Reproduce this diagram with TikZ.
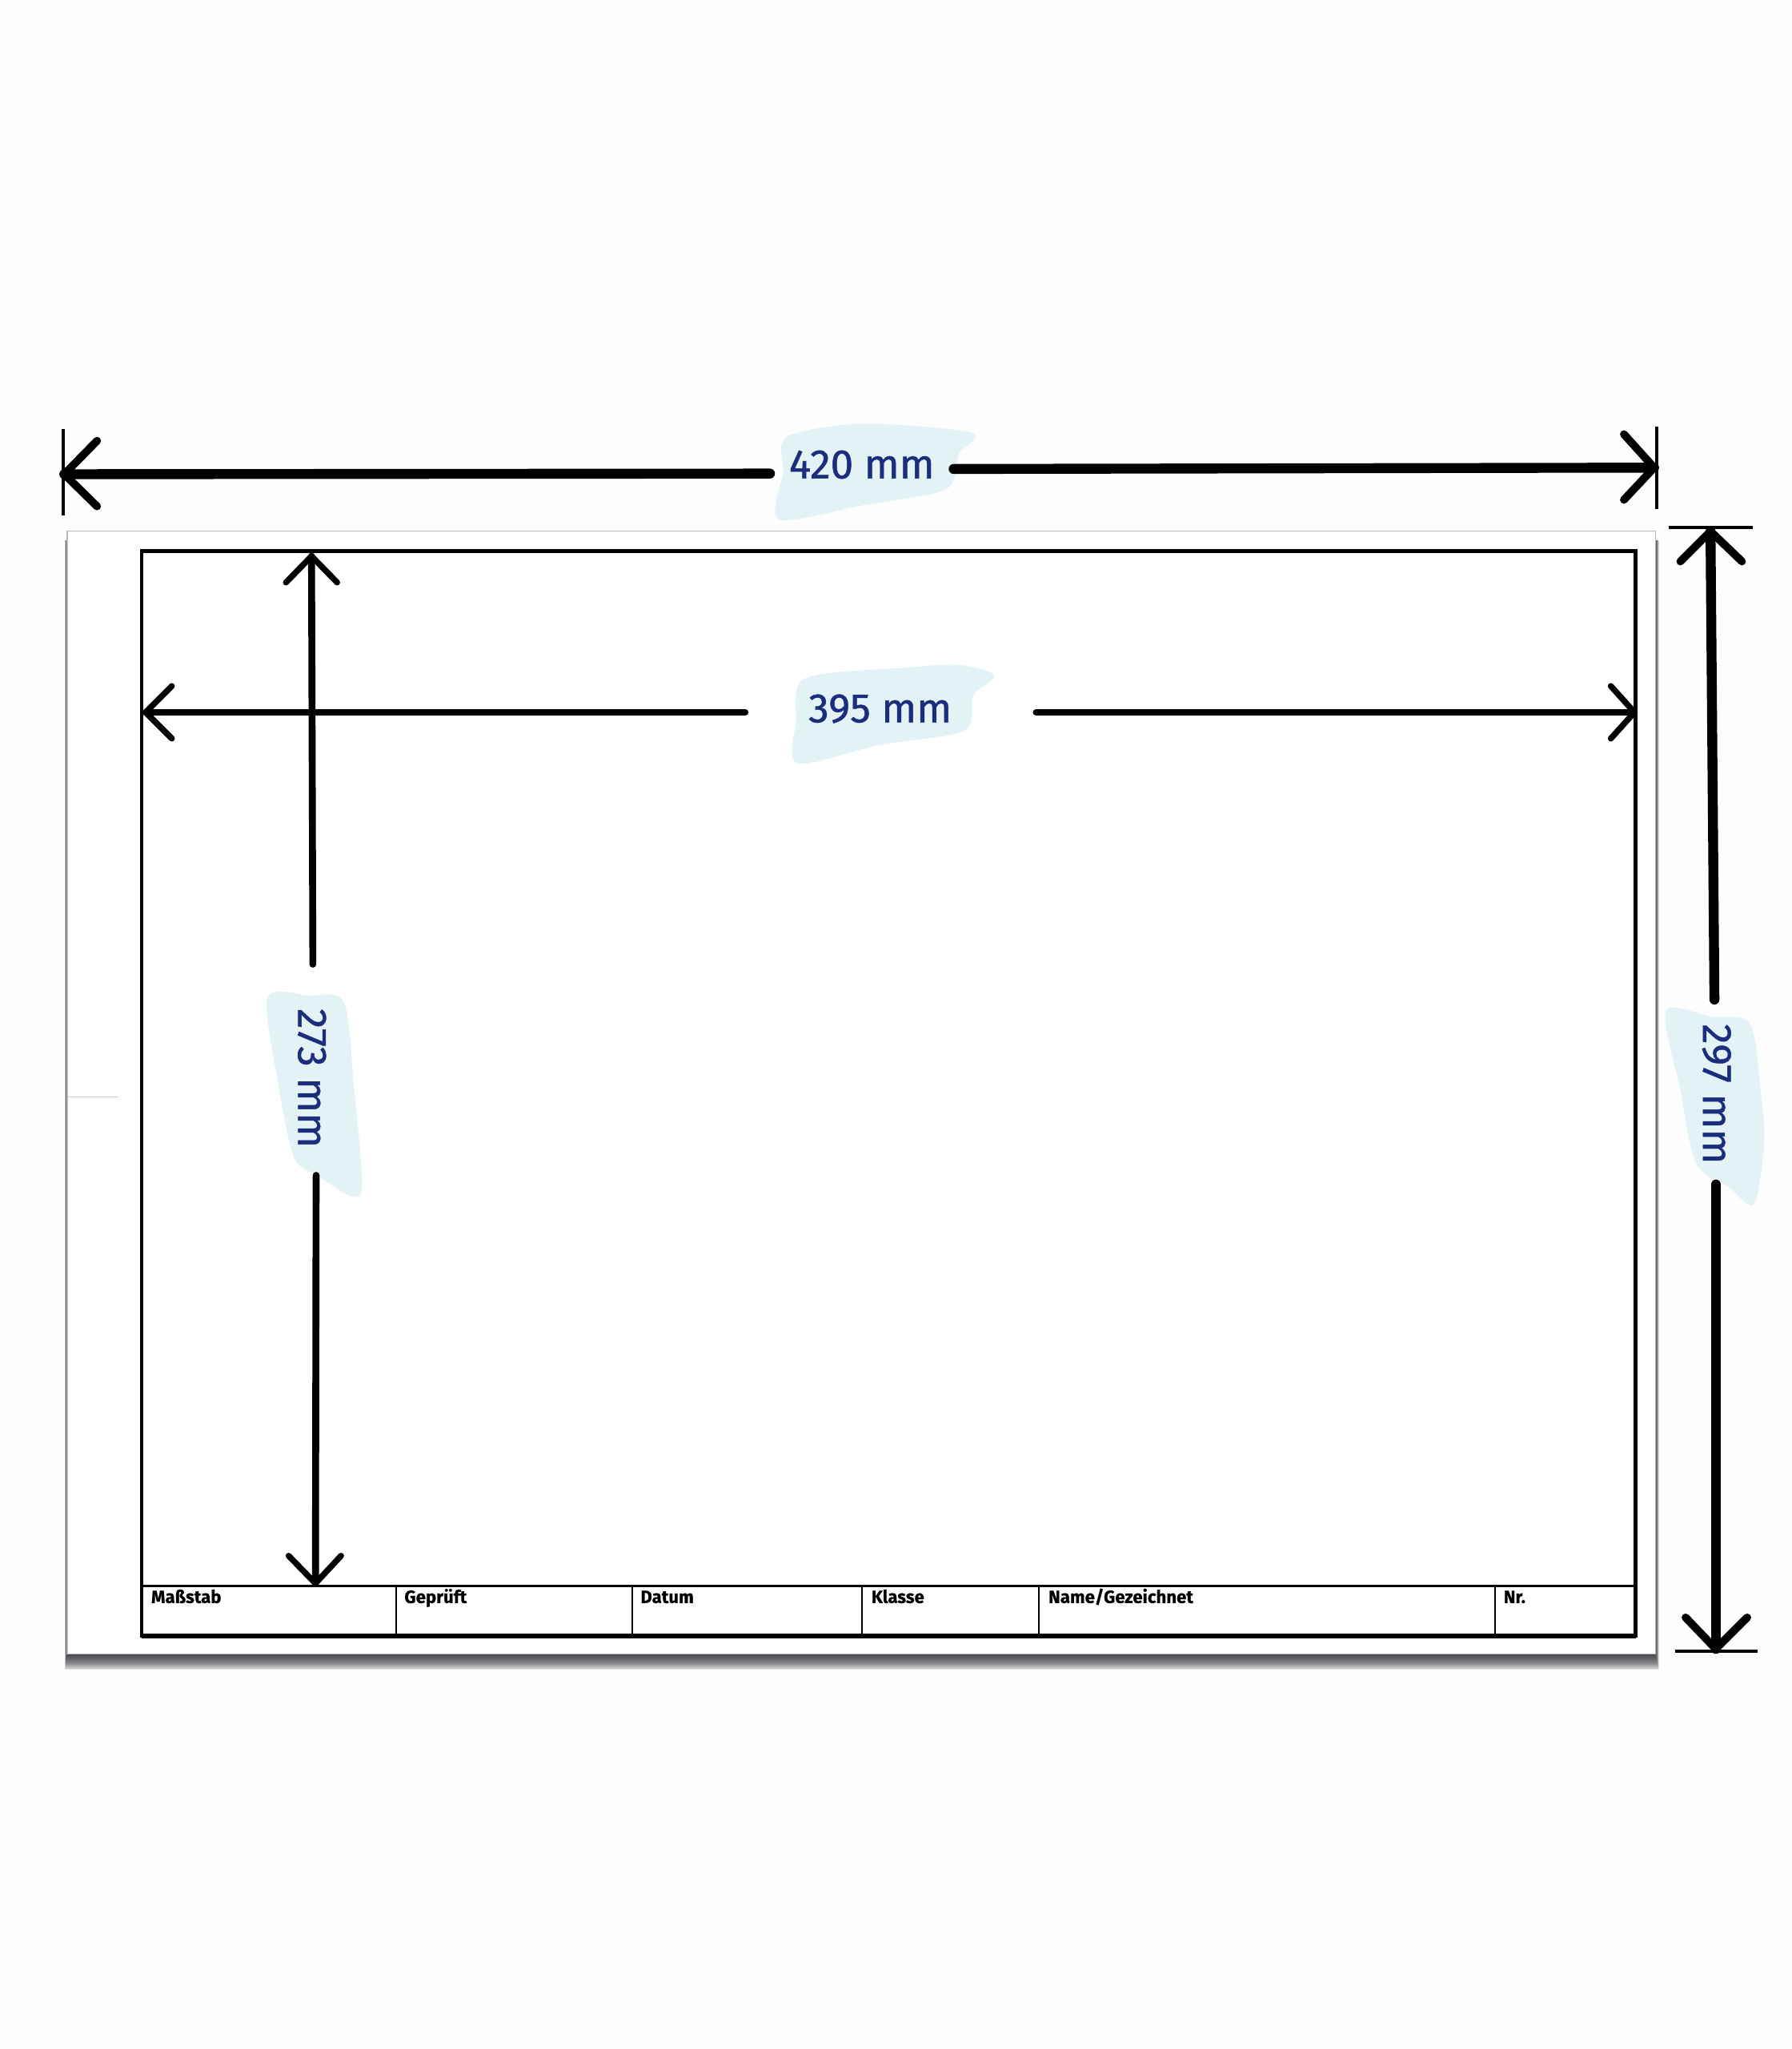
\documentclass[tikz,border=0pt]{standalone}
\usepackage{fontspec}
\newfontfamily\dimfont[FakeBold=0.9]{Fira Sans}
\newfontfamily\tbfont[BoldFeatures={FakeBold=0.6}]{Fira Sans}
\definecolor{dimblue}{RGB}{27,45,125}
\definecolor{brush}{RGB}{227,242,244}
\definecolor{pagebg}{RGB}{253,253,253}
\definecolor{shadowc}{RGB}{35,35,45}
\tikzset{
  thickdim/.style={line width=4.3pt, line cap=round, line join=round},
  middim/.style={line width=3pt, line cap=round, line join=round},
  headthick/.style={line width=3.4pt, line cap=round, line join=round},
  headmid/.style={line width=2.6pt, line cap=round, line join=round},
  tick/.style={line width=1.4pt},
  dimlabel/.style={font=\dimfont\fontsize{17.8}{20}\selectfont, text=dimblue, inner sep=0pt, text depth=0pt},
  tblabel/.style={font=\tbfont\bfseries\fontsize{7.7}{9}\selectfont, anchor=base west, inner sep=0pt},
  brushfill/.style={fill=brush, draw=none},
}
\begin{document}
\begin{tikzpicture}[x=0.2mm,y=-0.2mm]
\useasboundingbox (0,0) rectangle (1366,1562);
\fill[pagebg] (0,0) rectangle (1366,1562);

% sheet shadow
\foreach \i in {0,...,11}
  \fill[shadowc,opacity=0.13] (50.5-\i*0.08,412) rectangle (1262+\i*0.25,1261.5+\i*1.05);
% sheet
\node[draw=gray!55, line width=0.5pt, fill=white, minimum width=1211*0.2mm, minimum height=856*0.2mm, inner sep=0pt, anchor=north west] (sheet) at (50.8,404.5) {};
\draw[gray!40, line width=0.4pt] (52,836) -- (90,836);

% inner frame
\coordinate (fTL) at (108,420);
\coordinate (fBR) at (1247,1247);
\draw[line width=1.6pt] (fTL) rectangle (fBR);
\draw[line width=2.2pt] (108,1247) -- (1247,1247);
% title block
\draw[line width=0.9pt] (108,1209) -- (1247,1209);
\foreach \x in {302,482,657,792,1140}
  \draw[line width=0.7pt] (\x,1209) -- (\x,1247);
\node[tblabel] (t1) at (115,1222) {Maßstab};
\node[tblabel] (t2) at (308,1222) {Geprüft};
\node[tblabel] (t3) at (488,1222) {Datum};
\node[tblabel] (t4) at (664,1222) {Klasse};
\node[tblabel] (t5) at (799,1222) {Name/Gezeichnet};
\node[tblabel] (t6) at (1146,1222) {Nr.};

% ---------- 420 mm ----------
\fill[brushfill] plot[smooth cycle, tension=0.5] coordinates {(600,333) (658,323) (741,330) (731,346) (721,373) (658,385) (594,396) (597,360)};
\node[dimlabel] (l420) at (657,354) {420 mm};
\coordinate (a420L) at (49,361.5);
\coordinate (a420Le) at (587,361);
\coordinate (a420Rs) at (727,357.5);
\coordinate (a420R) at (1261,356.5);
\draw[thickdim] (a420L) -- (a420Le);
\draw[thickdim] (a420Rs) -- (a420R);
\draw[headthick] (74,336) -- (a420L) -- (74,386);
\draw[headthick] (1238,331) -- (a420R) -- (1238,381);
\draw[tick] (48,327) -- (48,393);
\draw[tick] (1263,325) -- (1263,388);

% ---------- 395 mm ----------
\fill[brushfill] plot[smooth cycle, tension=0.5] coordinates {(614,517) (690,509) (732,507) (758,515) (742,530) (735,557) (670,568) (608,582) (607,550)};
\node[dimlabel] (l395) at (671,540) {395 mm};
\coordinate (a395L) at (111,543);
\coordinate (a395Le) at (568,543);
\coordinate (a395Rs) at (790,543);
\coordinate (a395R) at (1246,543);
\draw[middim] (a395L) -- (a395Le);
\draw[middim] (a395Rs) -- (a395R);
\draw[headmid] (131,523) -- (a395L) -- (131,563);
\draw[headmid] (1228,523) -- (a395R) -- (1228,563);

% ---------- 273 mm ----------
\fill[brushfill] plot[smooth cycle, tension=0.5] coordinates {(204,760) (235,759) (262,764) (270,830) (276,903) (268,912) (242,896) (224,882) (211,820)};
\node[dimlabel, rotate=-90] (l273) at (238,822) {273 mm};
\coordinate (a273T) at (237.5,424);
\coordinate (a273Te) at (238.5,735);
\coordinate (a273Bs) at (241,896);
\coordinate (a273B) at (240.5,1207);
\draw[middim] (a273T) -- (a273Te);
\draw[middim] (a273Bs) -- (a273B);
\draw[headmid] (218,444) -- (a273T) -- (257,444);
\draw[headmid] (220,1186) -- (a273B) -- (260,1186);

% ---------- 297 mm ----------
\fill[brushfill] plot[smooth cycle, tension=0.5] coordinates {(1270,771) (1305,775) (1334,780) (1342,830) (1345,870) (1337,918) (1318,905) (1293,887) (1281,831)};
\node[dimlabel, rotate=-90] (l297) at (1309,834) {297 mm};
\coordinate (a297T) at (1304,405);
\coordinate (a297Te) at (1307,762);
\coordinate (a297Bs) at (1308,903);
\coordinate (a297B) at (1308,1257);
\draw[thickdim] (a297T) -- (a297Te);
\draw[thickdim] (a297Bs) -- (a297B);
\draw[headthick] (1281,428) -- (a297T) -- (1328,428);
\draw[headthick] (1285,1233) -- (a297B) -- (1332,1233);
\draw[tick] (1272,402) -- (1336,402);
\draw[tick] (1277,1259) -- (1340,1259);
\end{tikzpicture}
\end{document}
